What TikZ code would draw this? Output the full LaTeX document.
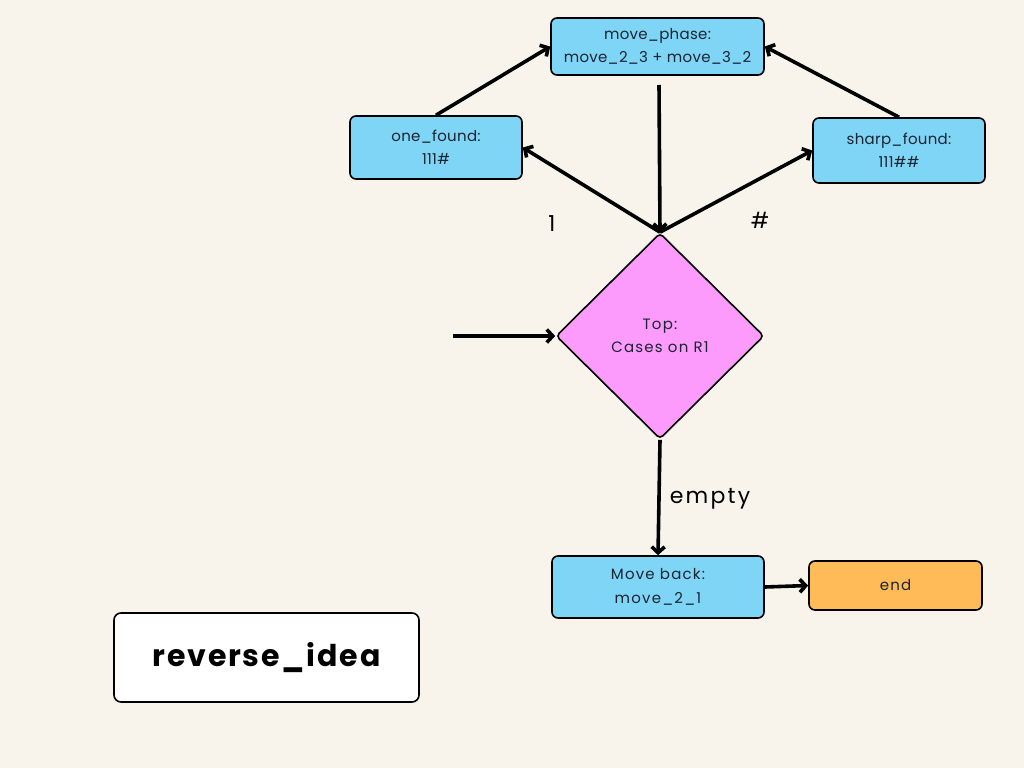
\documentclass[tikz,border=0pt]{standalone}
\usepackage{fontspec}
\setmainfont{Poppins}
\newfontfamily\widefont[LetterSpace=8]{Poppins}
\newfontfamily\midfont[LetterSpace=2]{Poppins}
\newfontfamily\titlefont[LetterSpace=6]{Poppins}
\newfontfamily\lblfont[LetterSpace=10]{Poppins}
\usetikzlibrary{arrows.meta,shapes.geometric}
\definecolor{bg}{HTML}{F8F4EC}
\definecolor{boxblue}{HTML}{7ED5F6}
\definecolor{boxpink}{HTML}{FD9BFC}
\definecolor{boxorange}{HTML}{FEBB57}
\definecolor{txt}{HTML}{1C2431}
\begin{document}
\begin{tikzpicture}[x=1pt,y=-1pt,
  bluebox/.style={draw=black, line width=1.6pt, fill=boxblue, rounded corners=6pt,
    inner sep=0pt, align=center, text=txt, font=\midfont\fontsize{15}{23}\selectfont},
  widebox/.style={bluebox, font=\widefont\fontsize{15}{24}\selectfont},
  conn/.style={line width=3.6pt, -{Straight Barb[length=6pt,width=13pt]}},
  lbl/.style={font=\fontsize{22}{24}\selectfont, text=black}
]
\useasboundingbox[fill=bg] (0,0) rectangle (1024,768);

\node[bluebox, minimum width=213pt, minimum height=57pt] (mp) at (657.5,46.5) {move\_phase:\\move\_2\_3 + move\_3\_2};
\node[bluebox, minimum width=172pt, minimum height=63pt] (one) at (436,147.5) {one\_found:\\111\#};
\node[bluebox, minimum width=172pt, minimum height=65pt] (sharp) at (899,150.5) {sharp\_found:\\111\#\#};
\node[diamond, draw=black, line width=1.6pt, fill=boxpink, rounded corners=4pt,
  minimum width=208pt, minimum height=206pt, inner sep=0pt, align=center,
  text=txt, font=\widefont\fontsize{15}{23}\selectfont] (dia) at (660,336) {Top:\\Cases on R1};
\node[widebox, minimum width=212pt, minimum height=62pt] (mb) at (658,587) {Move back:\\move\_2\_1};
\node[widebox, fill=boxorange, minimum width=173pt, minimum height=49pt] (end) at (895.5,585.5) {end};
\node[draw=black, line width=1.6pt, fill=white, rounded corners=7pt,
  minimum width=305pt, minimum height=89pt, inner sep=0pt,
  font=\titlefont\fontsize{30}{32}\selectfont\bfseries] (title) at (266.5,657.5) {reverse\_idea};

\coordinate (mpbot) at (659,85);
\coordinate (in) at (453,336);

\draw[conn] (one.north) -- (mp.west);
\draw[conn] (sharp.north) -- (mp.east);
\draw[conn] (mpbot) -- (dia.north);
\draw[conn] (dia.north) -- (one.east);
\draw[conn] (dia.north) -- (sharp.west);
\draw[conn] (in) -- (dia.west);
\draw[conn] (dia.south) -- (mb.north);
\draw[conn] (mb.east) -- (end.west);

\node[lbl] (l1) at (552,224) {1};
\node[lbl] (lh) at (760,220) {\#};
\node[lbl, font=\lblfont\fontsize{22}{24}\selectfont] (le) at (710,499) {empty};
\end{tikzpicture}
\end{document}
